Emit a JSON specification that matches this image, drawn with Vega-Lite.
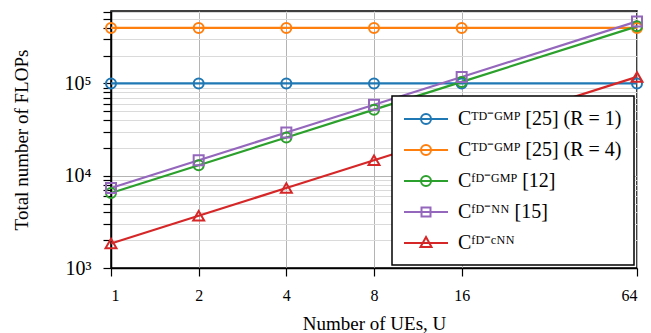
{
  "$schema": "https://vega.github.io/schema/vega-lite/v6.json",
  "width": 526,
  "height": 257,
  "autosize": {"type": "none"},
  "padding": {"left": 111, "top": 11, "right": 14, "bottom": 65},
  "background": "white",
  "config": {
    "font": "Liberation Serif",
    "view": {"stroke": "black", "strokeWidth": 1.5},
    "axis": {
      "domainColor": "black", "domainWidth": 1.5, "tickColor": "black", "tickWidth": 1.2,
      "labelFont": "Liberation Serif", "titleFont": "Liberation Serif",
      "labelColor": "black", "titleColor": "black", "titleFontWeight": "normal",
      "labelFontSize": 16, "titleFontSize": 19, "gridWidth": 1
    },
    "legend": {"strokeWidth": 1.5}
  },
  "data": {
    "values": [
      {"U": 1, "flops": 100000, "series": "Cᵀᴰ⁻ᴳᴹᴾ [25] (R = 1)"},
      {"U": 2, "flops": 100000, "series": "Cᵀᴰ⁻ᴳᴹᴾ [25] (R = 1)"},
      {"U": 4, "flops": 100000, "series": "Cᵀᴰ⁻ᴳᴹᴾ [25] (R = 1)"},
      {"U": 8, "flops": 100000, "series": "Cᵀᴰ⁻ᴳᴹᴾ [25] (R = 1)"},
      {"U": 16, "flops": 100000, "series": "Cᵀᴰ⁻ᴳᴹᴾ [25] (R = 1)"},
      {"U": 64, "flops": 100000, "series": "Cᵀᴰ⁻ᴳᴹᴾ [25] (R = 1)"},
      {"U": 1, "flops": 400000, "series": "Cᵀᴰ⁻ᴳᴹᴾ [25] (R = 4)"},
      {"U": 2, "flops": 400000, "series": "Cᵀᴰ⁻ᴳᴹᴾ [25] (R = 4)"},
      {"U": 4, "flops": 400000, "series": "Cᵀᴰ⁻ᴳᴹᴾ [25] (R = 4)"},
      {"U": 8, "flops": 400000, "series": "Cᵀᴰ⁻ᴳᴹᴾ [25] (R = 4)"},
      {"U": 16, "flops": 400000, "series": "Cᵀᴰ⁻ᴳᴹᴾ [25] (R = 4)"},
      {"U": 64, "flops": 400000, "series": "Cᵀᴰ⁻ᴳᴹᴾ [25] (R = 4)"},
      {"U": 1, "flops": 6500, "series": "Cᶠᴰ⁻ᴳᴹᴾ [12]"},
      {"U": 2, "flops": 13000, "series": "Cᶠᴰ⁻ᴳᴹᴾ [12]"},
      {"U": 4, "flops": 26000, "series": "Cᶠᴰ⁻ᴳᴹᴾ [12]"},
      {"U": 8, "flops": 52000, "series": "Cᶠᴰ⁻ᴳᴹᴾ [12]"},
      {"U": 16, "flops": 104000, "series": "Cᶠᴰ⁻ᴳᴹᴾ [12]"},
      {"U": 64, "flops": 416000, "series": "Cᶠᴰ⁻ᴳᴹᴾ [12]"},
      {"U": 1, "flops": 7350, "series": "Cᶠᴰ⁻ᴺᴺ [15]"},
      {"U": 2, "flops": 14700, "series": "Cᶠᴰ⁻ᴺᴺ [15]"},
      {"U": 4, "flops": 29400, "series": "Cᶠᴰ⁻ᴺᴺ [15]"},
      {"U": 8, "flops": 58800, "series": "Cᶠᴰ⁻ᴺᴺ [15]"},
      {"U": 16, "flops": 117600, "series": "Cᶠᴰ⁻ᴺᴺ [15]"},
      {"U": 64, "flops": 470400, "series": "Cᶠᴰ⁻ᴺᴺ [15]"},
      {"U": 1, "flops": 1840, "series": "Cᶠᴰ⁻ᶜᴺᴺ"},
      {"U": 2, "flops": 3680, "series": "Cᶠᴰ⁻ᶜᴺᴺ"},
      {"U": 4, "flops": 7360, "series": "Cᶠᴰ⁻ᶜᴺᴺ"},
      {"U": 8, "flops": 14720, "series": "Cᶠᴰ⁻ᶜᴺᴺ"},
      {"U": 16, "flops": 29440, "series": "Cᶠᴰ⁻ᶜᴺᴺ"},
      {"U": 64, "flops": 117760, "series": "Cᶠᴰ⁻ᶜᴺᴺ"}
    ]
  },
  "encoding": {
    "x": {
      "field": "U", "type": "quantitative",
      "scale": {"type": "log", "base": 2, "domain": [1, 64], "nice": false},
      "axis": {
        "values": [1, 2, 4, 8, 16, 64], "format": "d", "title": "Number of UEs, U",
        "tickSize": 8, "labelPadding": 11, "titlePadding": 11, "gridColor": "#b4b4b4"
      }
    },
    "y": {
      "field": "flops", "type": "quantitative",
      "scale": {"type": "log", "domain": [1000, 610000], "nice": false},
      "axis": {
        "values": [1000, 2000, 3000, 4000, 5000, 6000, 7000, 8000, 9000, 10000, 20000, 30000, 40000, 50000, 60000, 70000, 80000, 90000, 100000, 200000, 300000, 400000, 500000, 600000],
        "labelExpr": "datum.value == 1000 ? '10³' : datum.value == 10000 ? '10⁴' : datum.value == 100000 ? '10⁵' : ''",
        "labelFontSize": 20,
        "title": "Total number of FLOPs", "tickSize": 8, "labelPadding": 12, "titlePadding": 33,
        "gridColor": {"condition": {"test": "datum.value == 1000 || datum.value == 10000 || datum.value == 100000", "value": "#b4b4b4"}, "value": "#dadada"}
      }
    },
    "color": {
      "field": "series", "type": "nominal",
      "scale": {
        "domain": ["Cᵀᴰ⁻ᴳᴹᴾ [25] (R = 1)", "Cᵀᴰ⁻ᴳᴹᴾ [25] (R = 4)", "Cᶠᴰ⁻ᴳᴹᴾ [12]", "Cᶠᴰ⁻ᴺᴺ [15]", "Cᶠᴰ⁻ᶜᴺᴺ"],
        "range": ["#1f77b4", "#ff7f0e", "#2ca02c", "#9467bd", "#d62728"]
      },
      "legend": {
        "title": null, "orient": "bottom-right", "offset": 3, "padding": 12, "rowPadding": 10,
        "strokeColor": "black", "fillColor": "white",
        "labelFont": "Liberation Serif", "labelFontSize": 20, "labelColor": "black", "labelLimit": 400,
        "symbolSize": 400, "symbolStrokeWidth": 2, "symbolOffset": 11, "labelOffset": 21, "symbolOpacity": 1,
        "symbolFillColor": "transparent"
      }
    }
  },
  "layer": [
    {
      "mark": {"type": "point", "filled": false, "opacity": 0},
      "encoding": {
        "shape": {
          "field": "series", "type": "nominal",
          "scale": {
            "domain": ["Cᵀᴰ⁻ᴳᴹᴾ [25] (R = 1)", "Cᵀᴰ⁻ᴳᴹᴾ [25] (R = 4)", "Cᶠᴰ⁻ᴳᴹᴾ [12]", "Cᶠᴰ⁻ᴺᴺ [15]", "Cᶠᴰ⁻ᶜᴺᴺ"],
            "range": [
              "M-2.2,0L2.2,0M-0.5,0A0.5,0.5,0,1,1,0.5,0A0.5,0.5,0,1,1,-0.5,0",
              "M-2.2,0L2.2,0M-0.5,0A0.5,0.5,0,1,1,0.5,0A0.5,0.5,0,1,1,-0.5,0",
              "M-2.2,0L2.2,0M-0.5,0A0.5,0.5,0,1,1,0.5,0A0.5,0.5,0,1,1,-0.5,0",
              "M-2.2,0L2.2,0M-0.45,-0.45L0.45,-0.45L0.45,0.45L-0.45,0.45Z",
              "M-2.2,0L2.2,0M0,-0.6L0.55,0.4L-0.55,0.4Z"
            ]
          },
          "legend": {
            "title": null, "orient": "bottom-right", "offset": 3, "padding": 12, "rowPadding": 10,
            "strokeColor": "black", "fillColor": "white",
            "labelFont": "Liberation Serif", "labelFontSize": 20, "labelColor": "black", "labelLimit": 400,
            "symbolSize": 400, "symbolStrokeWidth": 2, "symbolOffset": 11, "labelOffset": 21, "symbolOpacity": 1,
            "symbolFillColor": "transparent"
          }
        }
      }
    },
    {
      "mark": {"type": "line", "strokeWidth": 2.2}
    },
    {
      "transform": [{"filter": {"field": "series", "oneOf": ["Cᵀᴰ⁻ᴳᴹᴾ [25] (R = 1)", "Cᵀᴰ⁻ᴳᴹᴾ [25] (R = 4)", "Cᶠᴰ⁻ᴳᴹᴾ [12]"]}}],
      "mark": {"type": "point", "shape": "circle", "filled": false, "size": 100, "strokeWidth": 2, "opacity": 1}
    },
    {
      "transform": [{"filter": {"field": "series", "equal": "Cᶠᴰ⁻ᴺᴺ [15]"}}],
      "mark": {"type": "point", "shape": "square", "filled": false, "size": 100, "strokeWidth": 2, "opacity": 1}
    },
    {
      "transform": [{"filter": {"field": "series", "equal": "Cᶠᴰ⁻ᶜᴺᴺ"}}],
      "mark": {"type": "point", "shape": "triangle-up", "filled": false, "size": 120, "strokeWidth": 2, "opacity": 1}
    }
  ]
}
